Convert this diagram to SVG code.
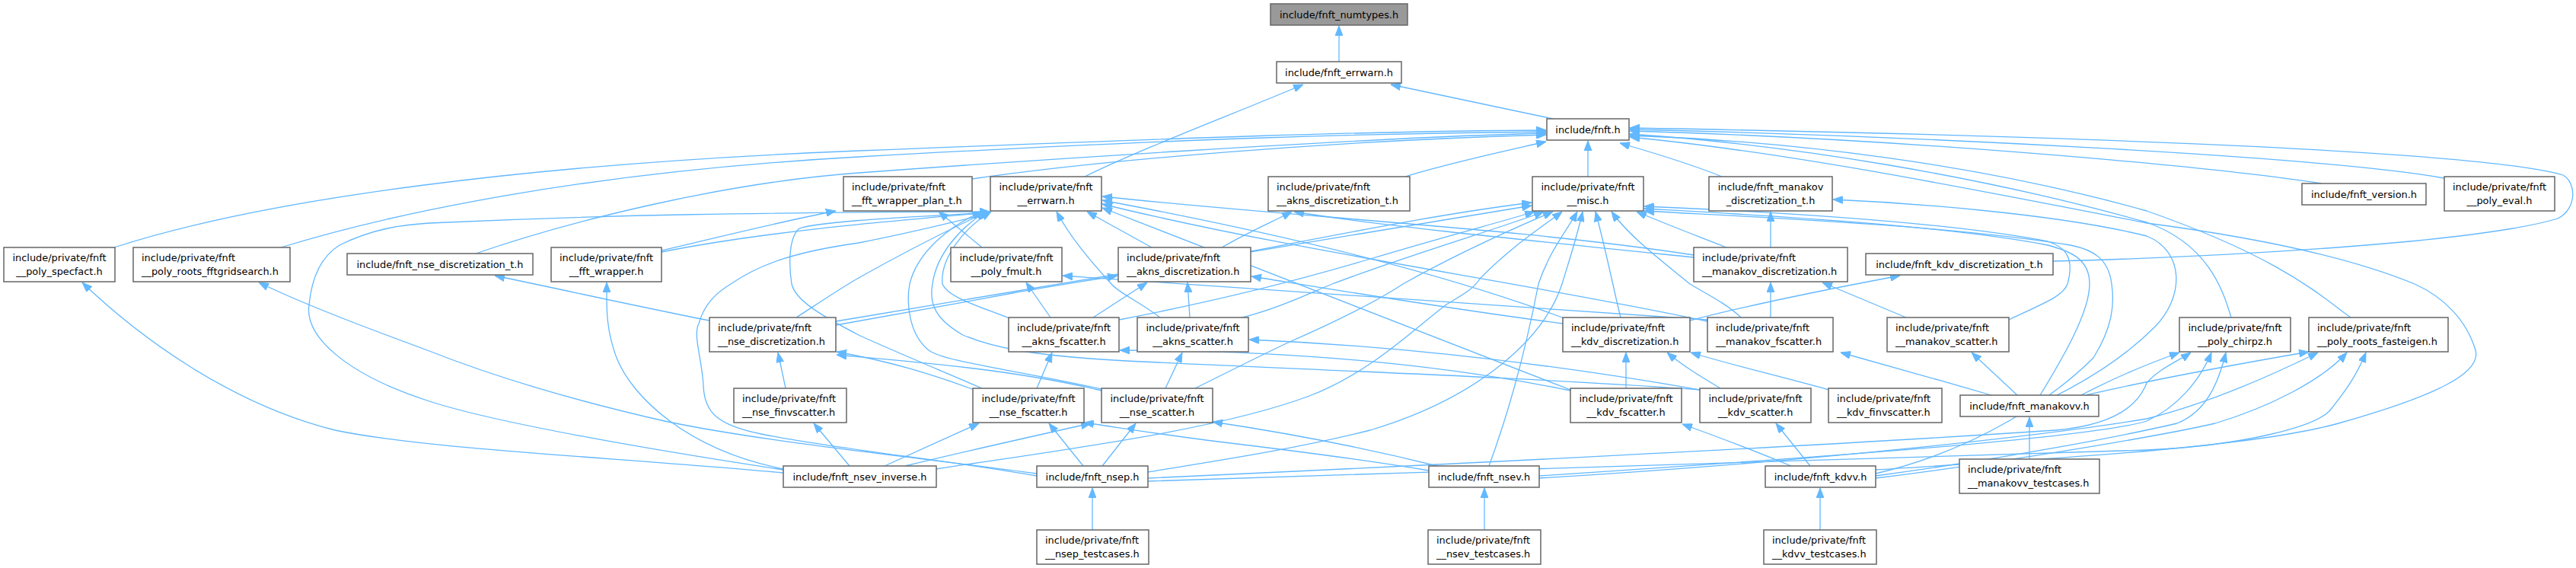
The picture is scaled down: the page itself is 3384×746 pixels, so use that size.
<svg xmlns="http://www.w3.org/2000/svg" width="3384" height="746" viewBox="0 0 3384 746">
<style>
.node rect{fill:#ffffff;stroke:#666666;stroke-width:1.5}
.root rect{fill:#999999}
text{font-family:"DejaVu Sans","Liberation Sans",sans-serif;font-size:12.9px;fill:#000000}
.c{text-anchor:middle}
.edges path{fill:none;stroke:#63B8FF;stroke-width:1.3;marker-end:url(#ah)}
</style>
<defs>
<marker id="ah" viewBox="0 0 13 10" refX="13" refY="5" markerWidth="13" markerHeight="10" markerUnits="userSpaceOnUse" orient="auto"><path d="M0,0L13,5L0,10z" fill="#63B8FF" stroke="#63B8FF" stroke-width="1"/></marker>
</defs>
<rect width="3384" height="746" fill="#ffffff"/>
<g id="edges" class="edges">
<path d="M1759,81L1759,34"/>
<path d="M2040,156L1827,111"/>
<path d="M1425,232C1500,195 1620,150 1712,111"/>
<path d="M2086,232L2086,185"/>
<path d="M1846,232C1900,215 1970,200 2031,186"/>
<path d="M2262,232C2220,215 2170,200 2128,188"/>
<path d="M150,325C350,260 700,215 1128,198S1800,172 2031,171"/>
<path d="M369,325C450,300 700,230 1128,206S1800,175 2031,173"/>
<path d="M625,333C750,290 950,240 1128,227S1800,180 2031,175"/>
<path d="M1277,235C1450,210 1750,185 2031,177"/>
<path d="M3050,241C2900,218 2500,182 2141,172"/>
<path d="M3211,234C3050,205 2500,178 2141,170"/>
<path d="M2697,343C2900,338 3250,320 3360,287C3385,275 3385,240 3367,230C3250,195 2600,176 2141,168"/>
<path d="M2931,417C2920,380 2900,320 2820,292C2600,230 2350,190 2141,176"/>
<path d="M3088,417C3050,390 3000,340 2820,277C2600,215 2350,185 2141,178"/>
<path d="M2464,617C2650,605 2950,590 3072,556C3200,520 3260,490 3252,460C3240,420 3210,390 3172,373C3080,335 2950,310 2820,293C2600,250 2350,200 2141,180"/>
<path d="M2702,519C2760,490 2800,460 2830,430C2870,390 2870,330 2820,310C2700,280 2500,266 2408,262"/>
<path d="M2326,325L2326,278"/>
<path d="M869,329C950,310 1030,290 1098,277"/>
<path d="M869,331C1000,305 1150,292 1300,279"/>
<path d="M1290,325L1233,278"/>
<path d="M1029,616C900,590 830,520 810,470C795,430 797,400 797,371"/>
<path d="M1029,621C800,600 560,590 440,565C300,530 180,440 108,371"/>
<path d="M1029,617C850,590 650,555 564,527C450,490 400,440 406,400C410,360 425,335 446,322C490,300 530,295 564,293C800,282 1000,279 1300,278"/>
<path d="M1362,622C1200,600 1000,580 873,553C750,525 650,495 564,461C480,430 400,400 340,371"/>
<path d="M1362,625C1250,605 1100,590 1000,570C940,558 925,540 924,506C922,470 910,440 918,425C925,400 940,385 960,373C1000,345 1050,330 1128,319C1200,305 1260,290 1300,280"/>
<path d="M932,421C850,405 760,385 650,362"/>
<path d="M1032,510L1022,463"/>
<path d="M1116,612L1069,556"/>
<path d="M1280,512C1220,490 1170,475 1099,462"/>
<path d="M1447,513C1330,485 1200,475 1099,466"/>
<path d="M1362,510L1382,463"/>
<path d="M1531,510L1553,463"/>
<path d="M1436,417L1507,371"/>
<path d="M1563,417L1560,371"/>
<path d="M1380,417L1348,371"/>
<path d="M1524,417C1495,395 1470,385 1460,373C1430,340 1405,310 1388,278"/>
<path d="M1513,325L1428,278"/>
<path d="M1447,511C1330,485 1240,475 1220,460C1195,440 1190,400 1195,373C1205,330 1250,295 1290,278"/>
<path d="M1326,418C1280,400 1245,390 1238,373C1235,340 1265,300 1302,278"/>
<path d="M2235,512C2000,495 1700,485 1500,475C1350,468 1300,455 1265,440C1230,420 1220,400 1225,373C1230,335 1260,300 1295,278"/>
<path d="M1290,510C1220,480 1160,455 1128,440C1080,415 1045,395 1040,373C1035,340 1038,310 1050,300C1080,290 1200,285 1300,279"/>
<path d="M1046,417C1080,395 1110,375 1128,365C1190,330 1250,300 1297,278"/>
<path d="M1098,427C1150,418 1250,400 1330,385C1380,376 1420,370 1468,362"/>
<path d="M1643,330C1800,300 1900,280 2012,266"/>
<path d="M1098,422C1300,390 1700,320 2012,270"/>
<path d="M1605,325C1640,305 1670,292 1697,278"/>
<path d="M2053,425C1900,405 1750,380 1644,363"/>
<path d="M1470,420C1600,395 1700,370 1800,340C1900,310 1970,292 2016,278"/>
<path d="M1628,418C1680,405 1720,385 1750,373C1850,335 1970,300 2028,278"/>
<path d="M1570,510C1620,485 1660,465 1692,450C1760,420 1810,395 1843,373C1920,330 2000,295 2040,278"/>
<path d="M1230,616C1400,590 1600,565 1720,520C1800,490 1860,430 1900,400C1925,385 1935,380 1945,365C1990,320 2030,295 2052,278"/>
<path d="M1956,612C1990,520 2010,430 2021,373C2035,330 2060,300 2072,278"/>
<path d="M1508,620C1600,605 1700,590 1800,565C1950,520 2030,440 2052,373C2062,340 2072,310 2079,278"/>
<path d="M2129,417C2122,390 2110,330 2096,278"/>
<path d="M2287,417C2270,400 2240,385 2220,373C2180,340 2140,310 2117,278"/>
<path d="M2268,325C2230,310 2190,295 2150,278"/>
<path d="M2639,420C2680,400 2710,390 2716,373C2725,340 2715,325 2690,317C2550,290 2300,277 2160,271"/>
<path d="M2680,519C2710,470 2745,410 2745,373C2745,340 2720,330 2690,322C2550,295 2300,282 2160,274"/>
<path d="M2464,622C2600,590 2700,520 2750,470C2775,430 2778,400 2774,373C2770,340 2750,328 2720,322C2550,295 2300,285 2160,277"/>
<path d="M2225,335C2000,300 1700,285 1448,258"/>
<path d="M2055,418C1900,360 1700,310 1448,263"/>
<path d="M2243,422C2000,370 1700,330 1448,268"/>
<path d="M2063,512C1900,450 1700,370 1448,273"/>
<path d="M2225,338C2000,315 1800,295 1700,278"/>
<path d="M2063,513C1900,480 1700,460 1471,460"/>
<path d="M2233,512C2050,480 1850,455 1641,446"/>
<path d="M2136,510L2136,463"/>
<path d="M2260,510C2235,495 2210,480 2190,463"/>
<path d="M2403,512C2330,492 2270,478 2221,463"/>
<path d="M2378,612L2333,556"/>
<path d="M2353,612C2300,590 2260,575 2210,557"/>
<path d="M2391,696L2391,641"/>
<path d="M1950,696L1950,641"/>
<path d="M1435,696L1435,641"/>
<path d="M2666,603L2666,548"/>
<path d="M2650,519L2590,463"/>
<path d="M2616,519C2550,500 2480,480 2418,463"/>
<path d="M2504,417L2394,371"/>
<path d="M2326,417L2326,371"/>
<path d="M2220,421C2300,400 2400,380 2496,362"/>
<path d="M2734,519C2770,500 2810,482 2863,463"/>
<path d="M2740,519C2800,505 2900,485 3033,462"/>
<path d="M2022,625C2400,600 2750,575 2820,553C2860,535 2890,500 2905,463"/>
<path d="M2022,628C2400,605 2700,570 2820,550C2900,530 2980,495 3045,463"/>
<path d="M2464,625C2650,600 2800,570 2860,556C2900,540 2915,500 2924,463"/>
<path d="M2464,628C2650,605 2850,570 2910,556C2980,535 3050,500 3083,463"/>
<path d="M1508,628C1900,610 2400,585 2700,565C2780,558 2810,530 2820,503C2835,485 2860,475 2878,463"/>
<path d="M1508,632C2000,615 2600,600 2820,591C2950,585 3040,560 3060,540C3080,515 3095,495 3108,463"/>
<path d="M1162,612L1286,556"/>
<path d="M1189,612C1280,590 1370,570 1433,556"/>
<path d="M1877,618C1800,605 1700,592 1600,580C1520,570 1460,560 1424,555"/>
<path d="M1888,612C1800,590 1700,570 1593,554"/>
<path d="M1423,612L1378,556"/>
<path d="M1448,612L1492,556"/>
<path d="M2243,420C1900,395 1650,380 1396,362"/>
</g>
<g id="n1" class="node root"><rect x="1669" y="5" width="180" height="28"/><text class="c" x="1759" y="23.5">include/fnft_numtypes.h</text></g>
<g id="n2" class="node"><rect x="1677" y="81" width="164" height="28"/><text class="c" x="1759" y="99.5">include/fnft_errwarn.h</text></g>
<g id="n3" class="node"><rect x="2032" y="156" width="108" height="28"/><text class="c" x="2086" y="174.5">include/fnft.h</text></g>
<g id="n4" class="node"><rect x="5" y="325" width="146" height="45"/><text class="c" x="78" y="343">include/private/fnft</text><text class="c" x="78" y="360.5">__poly_specfact.h</text></g>
<g id="n5" class="node"><rect x="175" y="325" width="206" height="45"/><text x="186" y="343">include/private/fnft</text><text x="186" y="360.5">__poly_roots_fftgridsearch.h</text></g>
<g id="n6" class="node"><rect x="456" y="333" width="244" height="28"/><text class="c" x="578" y="351.5">include/fnft_nse_discretization_t.h</text></g>
<g id="n7" class="node"><rect x="724" y="325" width="145" height="45"/><text class="c" x="796.5" y="343">include/private/fnft</text><text class="c" x="796.5" y="360.5">__fft_wrapper.h</text></g>
<g id="n8" class="node"><rect x="1108" y="232" width="169" height="45"/><text x="1119" y="250">include/private/fnft</text><text x="1119" y="267.5">__fft_wrapper_plan_t.h</text></g>
<g id="n9" class="node"><rect x="1301" y="232" width="146" height="45"/><text class="c" x="1374" y="250">include/private/fnft</text><text class="c" x="1374" y="267.5">__errwarn.h</text></g>
<g id="n10" class="node"><rect x="1249" y="325" width="146" height="45"/><text class="c" x="1322" y="343">include/private/fnft</text><text class="c" x="1322" y="360.5">__poly_fmult.h</text></g>
<g id="n11" class="node"><rect x="1469" y="325" width="174" height="45"/><text x="1480" y="343">include/private/fnft</text><text x="1480" y="360.5">__akns_discretization.h</text></g>
<g id="n12" class="node"><rect x="1666" y="232" width="186" height="45"/><text x="1677" y="250">include/private/fnft</text><text x="1677" y="267.5">__akns_discretization_t.h</text></g>
<g id="n13" class="node"><rect x="2013" y="232" width="146" height="45"/><text class="c" x="2086" y="250">include/private/fnft</text><text class="c" x="2086" y="267.5">__misc.h</text></g>
<g id="n14" class="node"><rect x="2245" y="232" width="162" height="45"/><text class="c" x="2326" y="250">include/fnft_manakov</text><text class="c" x="2326" y="267.5">_discretization_t.h</text></g>
<g id="n15" class="node"><rect x="2225" y="325" width="202" height="45"/><text x="2236" y="343">include/private/fnft</text><text x="2236" y="360.5">__manakov_discretization.h</text></g>
<g id="n16" class="node"><rect x="2451" y="333" width="246" height="28"/><text class="c" x="2574" y="351.5">include/fnft_kdv_discretization_t.h</text></g>
<g id="n17" class="node"><rect x="3024" y="241" width="163" height="28"/><text class="c" x="3105.5" y="259.5">include/fnft_version.h</text></g>
<g id="n18" class="node"><rect x="3211" y="232" width="145" height="45"/><text class="c" x="3283.5" y="250">include/private/fnft</text><text class="c" x="3283.5" y="267.5">__poly_eval.h</text></g>
<g id="n19" class="node"><rect x="932" y="417" width="166" height="45"/><text x="943" y="435">include/private/fnft</text><text x="943" y="452.5">__nse_discretization.h</text></g>
<g id="n20" class="node"><rect x="1325" y="417" width="145" height="45"/><text class="c" x="1397.5" y="435">include/private/fnft</text><text class="c" x="1397.5" y="452.5">__akns_fscatter.h</text></g>
<g id="n21" class="node"><rect x="1494" y="417" width="146" height="45"/><text class="c" x="1567" y="435">include/private/fnft</text><text class="c" x="1567" y="452.5">__akns_scatter.h</text></g>
<g id="n22" class="node"><rect x="2053" y="417" width="167" height="45"/><text x="2064" y="435">include/private/fnft</text><text x="2064" y="452.5">__kdv_discretization.h</text></g>
<g id="n23" class="node"><rect x="2243" y="417" width="165" height="45"/><text x="2254" y="435">include/private/fnft</text><text x="2254" y="452.5">__manakov_fscatter.h</text></g>
<g id="n24" class="node"><rect x="2479" y="417" width="160" height="45"/><text x="2490" y="435">include/private/fnft</text><text x="2490" y="452.5">__manakov_scatter.h</text></g>
<g id="n25" class="node"><rect x="2863" y="417" width="146" height="45"/><text class="c" x="2936" y="435">include/private/fnft</text><text class="c" x="2936" y="452.5">__poly_chirpz.h</text></g>
<g id="n26" class="node"><rect x="3033" y="417" width="183" height="45"/><text x="3044" y="435">include/private/fnft</text><text x="3044" y="452.5">__poly_roots_fasteigen.h</text></g>
<g id="n27" class="node"><rect x="964" y="510" width="148" height="45"/><text x="975" y="528">include/private/fnft</text><text x="975" y="545.5">__nse_finvscatter.h</text></g>
<g id="n28" class="node"><rect x="1278" y="510" width="146" height="45"/><text class="c" x="1351" y="528">include/private/fnft</text><text class="c" x="1351" y="545.5">__nse_fscatter.h</text></g>
<g id="n29" class="node"><rect x="1447" y="510" width="146" height="45"/><text class="c" x="1520" y="528">include/private/fnft</text><text class="c" x="1520" y="545.5">__nse_scatter.h</text></g>
<g id="n30" class="node"><rect x="2063" y="510" width="146" height="45"/><text class="c" x="2136" y="528">include/private/fnft</text><text class="c" x="2136" y="545.5">__kdv_fscatter.h</text></g>
<g id="n31" class="node"><rect x="2233" y="510" width="146" height="45"/><text class="c" x="2306" y="528">include/private/fnft</text><text class="c" x="2306" y="545.5">__kdv_scatter.h</text></g>
<g id="n32" class="node"><rect x="2402" y="510" width="149" height="45"/><text x="2413" y="528">include/private/fnft</text><text x="2413" y="545.5">__kdv_finvscatter.h</text></g>
<g id="n33" class="node"><rect x="2575" y="519" width="182" height="28"/><text class="c" x="2666" y="537.5">include/fnft_manakovv.h</text></g>
<g id="n34" class="node"><rect x="1029" y="612" width="201" height="28"/><text class="c" x="1129.5" y="630.5">include/fnft_nsev_inverse.h</text></g>
<g id="n35" class="node"><rect x="1362" y="612" width="146" height="28"/><text class="c" x="1435" y="630.5">include/fnft_nsep.h</text></g>
<g id="n36" class="node"><rect x="1877" y="612" width="145" height="28"/><text class="c" x="1949.5" y="630.5">include/fnft_nsev.h</text></g>
<g id="n37" class="node"><rect x="2319" y="612" width="145" height="28"/><text class="c" x="2391.5" y="630.5">include/fnft_kdvv.h</text></g>
<g id="n38" class="node"><rect x="2574" y="603" width="184" height="45"/><text x="2585" y="621">include/private/fnft</text><text x="2585" y="638.5">__manakovv_testcases.h</text></g>
<g id="n39" class="node"><rect x="1362" y="696" width="147" height="45"/><text x="1373" y="714">include/private/fnft</text><text x="1373" y="731.5">__nsep_testcases.h</text></g>
<g id="n40" class="node"><rect x="1876" y="696" width="148" height="45"/><text x="1887" y="714">include/private/fnft</text><text x="1887" y="731.5">__nsev_testcases.h</text></g>
<g id="n41" class="node"><rect x="2317" y="696" width="148" height="45"/><text x="2328" y="714">include/private/fnft</text><text x="2328" y="731.5">__kdvv_testcases.h</text></g>
</svg>
